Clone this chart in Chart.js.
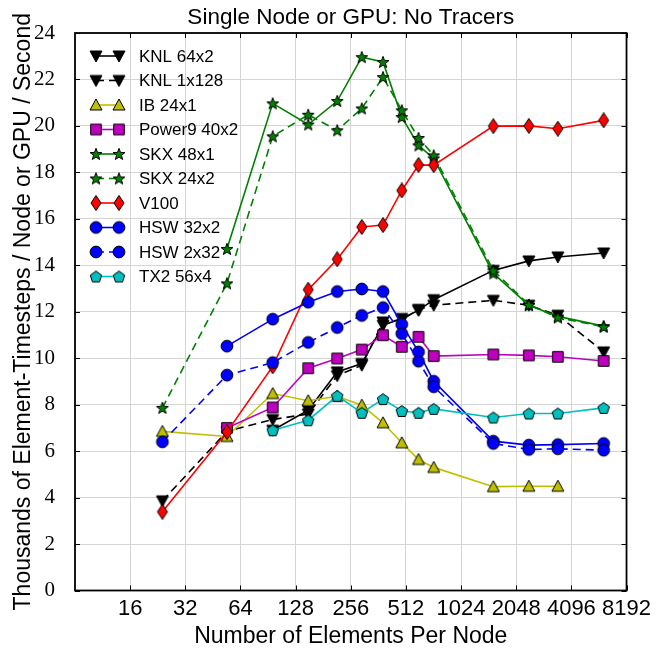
<!DOCTYPE html>
<html lang="en">
<head>
<meta charset="UTF-8" />
<title>Single Node or GPU: No Tracers</title>
<style>
  html, body { margin: 0; padding: 0; background: #fff; }
  #wrap { width: 656px; height: 649px; }
</style>
</head>
<body>
<div id="wrap"><canvas id="perf" width="656" height="649"></canvas></div>

<script src="https://cdn.jsdelivr.net/npm/chart.js"></script>
<script>
// Elements per node (6*n^2 cubed-sphere sizes) and throughput per series
const knl64x2X  = [96, 150, 216, 294, 384, 486, 600, 726, 1536, 2400, 3456, 6144];
const knl64x2Y  = [6.9, 7.76, 9.41, 9.77, 11.42, 11.71, 12.06, 12.52, 13.78, 14.19, 14.36, 14.53];

const knl1x128X = [24, 54, 96, 150, 216, 294, 384, 486, 600, 726, 1536, 2400, 3456, 6144];
const knl1x128Y = [3.86, 6.85, 7.36, 7.6, 9.25, 9.7, 11.56, 11.65, 12.1, 12.28, 12.49, 12.28, 11.85, 10.27];

const ib24x1X   = [24, 54, 96, 150, 216, 294, 384, 486, 600, 726, 1536, 2400, 3456];
const ib24x1Y   = [6.85, 6.63, 8.48, 8.17, 8.36, 7.98, 7.22, 6.36, 5.64, 5.3, 4.47, 4.49, 4.49];

const p9X       = [54, 96, 150, 216, 294, 384, 486, 600, 726, 1536, 2400, 3456, 6144];
const p9Y       = [7.0, 7.88, 9.57, 9.99, 10.37, 10.99, 10.49, 10.92, 10.09, 10.16, 10.12, 10.06, 9.88];

const skx48X    = [54, 96, 150, 216, 294, 384, 486, 600, 726, 1536, 2400, 3456, 6144];
const skx48Y    = [14.7, 20.97, 20.06, 21.07, 22.96, 22.75, 20.38, 19.16, 18.6, 13.65, 12.28, 11.8, 11.38];

const skx24X    = [24, 54, 96, 150, 216, 294, 384, 486, 600, 726, 1536, 2400, 3456, 6144];
const skx24Y    = [7.86, 13.22, 19.55, 20.48, 19.81, 20.75, 22.1, 20.67, 19.48, 18.73, 13.78, 12.3, 11.75, 11.35];

const v100X     = [24, 54, 96, 150, 216, 294, 384, 486, 600, 726, 1536, 2400, 3456, 6144];
const v100Y     = [3.39, 6.82, 9.65, 12.95, 14.26, 15.65, 15.73, 17.22, 18.32, 18.31, 19.99, 20.0, 19.88, 20.24];

const hsw32X    = [54, 96, 150, 216, 294, 384, 486, 600, 726, 1536, 2400, 3456, 6144];
const hsw32Y    = [10.52, 11.68, 12.41, 12.87, 12.98, 12.87, 11.46, 10.27, 9.01, 6.43, 6.26, 6.28, 6.33];

const hsw2X     = [24, 54, 96, 150, 216, 294, 384, 486, 600, 726, 1536, 2400, 3456, 6144];
const hsw2Y     = [6.4, 9.27, 9.81, 10.68, 11.32, 11.84, 12.18, 11.06, 9.87, 8.77, 6.33, 6.07, 6.1, 6.04];

const tx2X      = [96, 150, 216, 294, 384, 486, 600, 726, 1536, 2400, 3456, 6144];
const tx2Y      = [6.9, 7.33, 8.38, 7.65, 8.24, 7.73, 7.65, 7.82, 7.45, 7.62, 7.62, 7.86];

const xTicks = [16, 32, 64, 128, 256, 512, 1024, 2048, 4096, 8192];
const yTicks = [0, 2, 4, 6, 8, 10, 12, 14, 16, 18, 20, 22, 24];

const SANS = "'Liberation Sans', Arial, sans-serif";
const SERIF = "'Liberation Serif', 'DejaVu Serif', serif";

// small canvases used as marker images (filled shape, black edge)
function makeMarker(shape, fill) {
  const c = document.createElement('canvas');
  const s = 16;
  c.width = s; c.height = s;
  const g = c.getContext('2d');
  const m = s / 2;
  g.beginPath();
  if (shape === 'circle') {
    g.arc(m, m, 5.9, 0, Math.PI * 2);
  } else if (shape === 'tridown') {
    g.moveTo(m - 6, m - 5); g.lineTo(m + 6, m - 5); g.lineTo(m, m + 6);
  } else if (shape === 'triup') {
    g.moveTo(m - 6, m + 5); g.lineTo(m + 6, m + 5); g.lineTo(m, m - 6);
  } else if (shape === 'square') {
    g.rect(m - 5.3, m - 5.3, 10.6, 10.6);
  } else if (shape === 'diamond') {
    g.moveTo(m, m - 7.5); g.lineTo(m + 5, m); g.lineTo(m, m + 7.5); g.lineTo(m - 5, m);
  } else if (shape === 'star') {
    for (let k = 0; k < 10; k++) {
      const r = k % 2 === 0 ? 6.2 : 2.6;
      const a = -Math.PI / 2 + k * Math.PI / 5;
      const px = m + r * Math.cos(a), py = m + 0.5 + r * Math.sin(a);
      k === 0 ? g.moveTo(px, py) : g.lineTo(px, py);
    }
  } else if (shape === 'pentagon') {
    for (let k = 0; k < 5; k++) {
      const a = -Math.PI / 2 + k * 2 * Math.PI / 5;
      const px = m + 6 * Math.cos(a), py = m + 0.6 + 6 * Math.sin(a);
      k === 0 ? g.moveTo(px, py) : g.lineTo(px, py);
    }
  }
  g.closePath();
  g.fillStyle = fill;
  g.fill();
  g.lineWidth = 1;
  g.strokeStyle = '#000';
  g.stroke();
  return c;
}

const series = [
  { label: 'KNL 64x2',    xs: knl64x2X,  ys: knl64x2Y,  color: '#000000', fill: '#000000', shape: 'tridown', dash: [] },
  { label: 'KNL 1x128',   xs: knl1x128X, ys: knl1x128Y, color: '#000000', fill: '#000000', shape: 'tridown', dash: [8, 5] },
  { label: 'IB 24x1',     xs: ib24x1X,   ys: ib24x1Y,   color: '#bfbf00', fill: '#bfbf00', shape: 'triup',   dash: [] },
  { label: 'Power9 40x2', xs: p9X,       ys: p9Y,       color: '#bf00bf', fill: '#bf00bf', shape: 'square',  dash: [] },
  { label: 'SKX 48x1',    xs: skx48X,    ys: skx48Y,    color: '#008000', fill: '#008000', shape: 'star',    dash: [] },
  { label: 'SKX 24x2',    xs: skx24X,    ys: skx24Y,    color: '#008000', fill: '#008000', shape: 'star',    dash: [8, 5] },
  { label: 'V100',        xs: v100X,     ys: v100Y,     color: '#ff0000', fill: '#ff0000', shape: 'diamond', dash: [] },
  { label: 'HSW 32x2',    xs: hsw32X,    ys: hsw32Y,    color: '#0000ff', fill: '#0000ff', shape: 'circle',  dash: [] },
  { label: 'HSW 2x32',    xs: hsw2X,     ys: hsw2Y,     color: '#0000ff', fill: '#0000ff', shape: 'circle',  dash: [8, 5] },
  { label: 'TX2 56x4',    xs: tx2X,      ys: tx2Y,      color: '#00bfbf', fill: '#00bfbf', shape: 'pentagon', dash: [] }
];

series.forEach(s => { s.marker = makeMarker(s.shape, s.fill); });

const datasets = series.map((s, i) => ({
  label: s.label,
  data: s.xs.map((x, j) => ({ x: x, y: s.ys[j] })),
  borderColor: s.color,
  borderWidth: 1.6,
  borderDash: s.dash,
  fill: false,
  tension: 0,
  pointStyle: s.marker,
  pointRadius: 6,
  pointHoverRadius: 6,
  order: series.length - i   // later series on top
}));

// frame, inward ticks, titles and legend
const decor = {
  id: 'decor',
  afterDatasetsDraw(chart) {
    const ctx = chart.ctx;
    const a = chart.chartArea;
    const xs = chart.scales.x, ys = chart.scales.y;
    ctx.save();
    ctx.strokeStyle = '#000';
    ctx.lineWidth = 1;
    xTicks.forEach(v => {
      const px = Math.round(xs.getPixelForValue(v)) + 0.5;
      ctx.beginPath();
      ctx.moveTo(px, a.bottom); ctx.lineTo(px, a.bottom - 5);
      ctx.moveTo(px, a.top); ctx.lineTo(px, a.top + 5);
      ctx.stroke();
    });
    yTicks.forEach(v => {
      const py = Math.round(ys.getPixelForValue(v)) + 0.5;
      ctx.beginPath();
      ctx.moveTo(a.left, py); ctx.lineTo(a.left + 5, py);
      ctx.moveTo(a.right, py); ctx.lineTo(a.right - 5, py);
      ctx.stroke();
    });
    ctx.lineWidth = 1.8;
    ctx.strokeRect(a.left, a.top, a.right - a.left, a.bottom - a.top);

    // legend
    const lx1 = 96, lx2 = 119, tx = 139, ly0 = 56, step = 24.5;
    ctx.font = '17px ' + SANS;
    ctx.textBaseline = 'middle';
    ctx.textAlign = 'left';
    series.forEach((s, i) => {
      const y = ly0 + i * step;
      ctx.beginPath();
      ctx.setLineDash(s.dash);
      ctx.strokeStyle = s.color;
      ctx.lineWidth = 1.6;
      ctx.moveTo(lx1, y); ctx.lineTo(lx2, y);
      ctx.stroke();
      ctx.setLineDash([]);
      [lx1, lx2].forEach(x => ctx.drawImage(s.marker, x - s.marker.width / 2, y - s.marker.height / 2));
      ctx.fillStyle = '#000';
      ctx.fillText(s.label, tx, y + 1);
    });

    // titles
    const cx = (a.left + a.right) / 2;
    ctx.fillStyle = '#000';
    ctx.textAlign = 'center';
    ctx.textBaseline = 'alphabetic';
    ctx.font = '22.5px ' + SANS;
    ctx.fillText('Single Node or GPU: No Tracers', cx, 24);
    ctx.font = '23px ' + SANS;
    ctx.fillText('Number of Elements Per Node', cx, 643);
    ctx.save();
    ctx.translate(30, (a.top + a.bottom) / 2);
    ctx.rotate(-Math.PI / 2);
    ctx.fillText('Thousands of Element-Timesteps / Node or GPU / Second', 0, 0);
    ctx.restore();
    ctx.restore();
  }
};

new Chart(document.getElementById('perf'), {
  type: 'line',
  data: { datasets: datasets },
  options: {
    responsive: false,
    animation: false,
    layout: { padding: { top: 33, right: 27, left: 0, bottom: 0 } },
    plugins: {
      legend: { display: false },
      tooltip: { enabled: false },
      title: { display: false }
    },
    scales: {
      x: {
        type: 'logarithmic',
        min: 8,
        max: 8192,
        afterBuildTicks: scale => { scale.ticks = xTicks.map(v => ({ value: v })); },
        afterFit: scale => { scale.height = 58.5; },
        ticks: {
          autoSkip: false,
          maxRotation: 0,
          padding: 5,
          color: '#000',
          font: { family: SANS, size: 22 },
          callback: v => String(v)
        },
        grid: { color: '#d4d4d4', lineWidth: 1, drawTicks: false },
        border: { display: false }
      },
      y: {
        min: 0,
        max: 24,
        afterBuildTicks: scale => { scale.ticks = yTicks.map(v => ({ value: v })); },
        afterFit: scale => { scale.width = 75; },
        ticks: {
          padding: 20,
          color: '#000',
          font: { family: SERIF, size: 21 },
          callback: v => String(v)
        },
        grid: { color: '#d4d4d4', lineWidth: 1, drawTicks: false },
        border: { display: false }
      }
    }
  },
  plugins: [decor]
});
</script>
</body>
</html>
